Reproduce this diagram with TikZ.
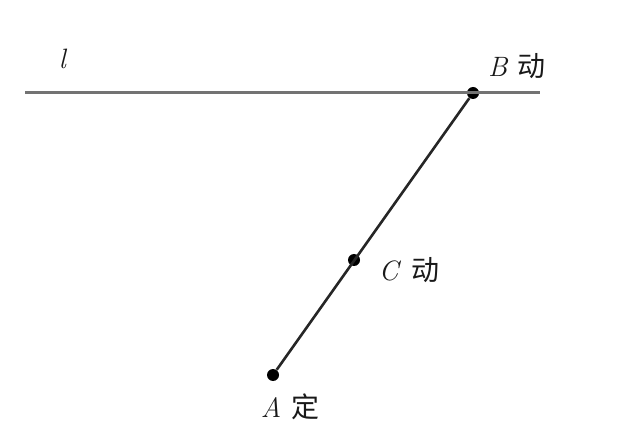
\documentclass[tikz,border=0pt]{standalone}
\usepackage{fontspec}
\newfontfamily\cjk{Noto Sans CJK SC}
\usepackage{tikz}
\usetikzlibrary{calc,positioning}
\newcommand{\lblsize}{\fontsize{28}{34}\selectfont}

\begin{document}
\begin{tikzpicture}[
	x=1pt, y=-1pt,
	dot/.style={
		circle, fill=black, inner sep=0pt, minimum size=12pt
	},
	lbl/.style={
		font=\lblsize, text=black!90, inner sep=0pt
	},
	thick
	]
	\useasboundingbox (0,0) rectangle (632,446);
	\coordinate (L) at (25,93);
	\coordinate (R) at (540,93);
	\node[dot] (B) at (473,93) {};
	\node[dot] (C) at (354,260) {};
	\node[dot] (A) at (273,375) {};
	\draw[line width=3pt, black!55] (L) -- (R);
	\draw[line width=2.6pt, black!85] (A) -- (B);
	\node[lbl] (l) at (63,59) {\textit{l}};
	\node[lbl] (Bl) at (517,66) {\textit{B}\hspace{0.35em}{\cjk 动}};
	\node[lbl] (Cl) at (409,270) {\textit{C}\hspace{0.35em}{\cjk 动}};
	\node[lbl] (Al) at (290,407) {\textit{A}\hspace{0.35em}{\cjk 定}};
\end{tikzpicture}
\end{document}
